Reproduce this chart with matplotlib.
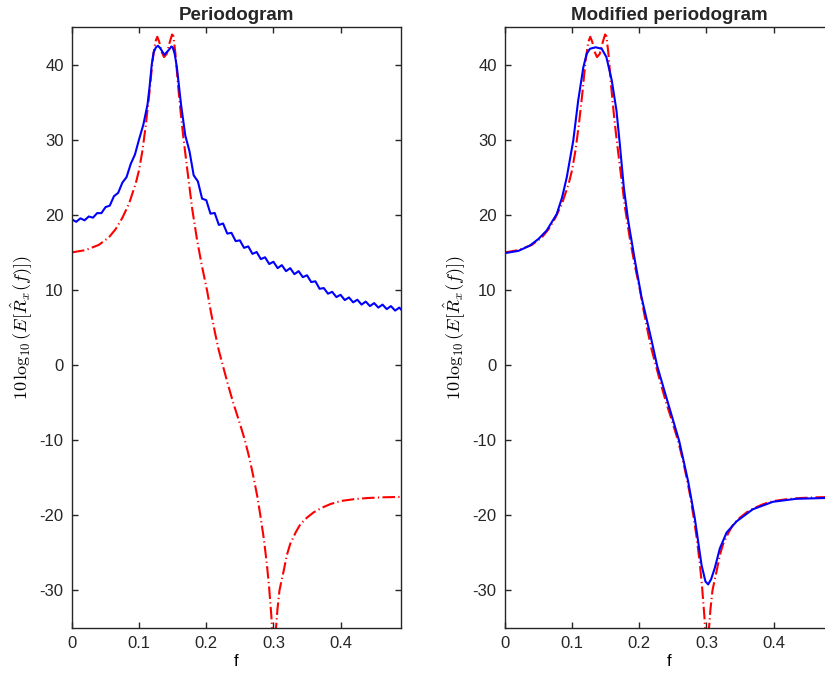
import matplotlib
matplotlib.use("Agg")
import matplotlib.pyplot as plt

plt.rcParams.update({
    "font.family": ["Liberation Sans", "DejaVu Sans"],
    "mathtext.fontset": "cm",
    "axes.unicode_minus": False,
    "axes.edgecolor": "#262626",
    "axes.linewidth": 1.0,
    "text.color": "#262626",
    "xtick.color": "#262626",
    "ytick.color": "#262626",
    "font.size": 12,
})

# true spectrum (dB) - red dash-dot, same in both panels
f_true = [0.000, 0.020, 0.040, 0.055, 0.065, 0.075, 0.085, 0.095, 0.100, 0.105,
          0.110, 0.115, 0.120, 0.124, 0.127, 0.130, 0.133, 0.137, 0.141, 0.145,
          0.149, 0.151, 0.154, 0.158, 0.162, 0.166, 0.172, 0.179, 0.186, 0.193,
          0.201, 0.207, 0.213, 0.2185, 0.2245, 0.232, 0.240, 0.249, 0.2575, 0.2645,
          0.2705, 0.276, 0.2805, 0.2855, 0.2900, 0.2935, 0.297, 0.2995, 0.300, 0.3005,
          0.303, 0.306, 0.309, 0.3125, 0.315, 0.320, 0.325, 0.333, 0.340, 0.350,
          0.360, 0.372, 0.385, 0.400, 0.420, 0.440, 0.465, 0.490]
R_true = [15.0, 15.3, 16.0, 17.0, 18.1, 19.6, 21.5, 24.2, 26.0, 28.6,
          32.0, 36.0, 40.5, 43.0, 43.7, 43.0, 41.8, 41.0, 41.4, 42.8,
          44.0, 43.8, 41.5, 37.2, 33.5, 30.2, 25.8, 20.8, 16.8, 13.4,
          10.0, 7.0, 4.3, 2.0, 0.0, -2.5, -5.0, -7.5, -10.0, -12.5,
          -15.0, -17.5, -20.0, -23.0, -26.3, -29.5, -33.5, -38.0, -50.0, -40.0,
          -36.0, -32.5, -30.0, -28.5, -27.5, -25.3, -23.8, -22.3, -21.2, -20.3,
          -19.6, -19.0, -18.5, -18.1, -17.85, -17.7, -17.6, -17.55]

# expected periodogram (dB) - blue, left panel
f_per = [0.0, 0.00625, 0.0125, 0.01875, 0.025, 0.03125, 0.0375, 0.04375, 0.05, 0.05625,
         0.0625, 0.06875, 0.075, 0.08125, 0.0875, 0.09375, 0.1, 0.10625, 0.1125, 0.1155,
         0.11875, 0.1215, 0.125, 0.128, 0.13125, 0.1375, 0.14375, 0.148, 0.15, 0.153,
         0.15625, 0.1595, 0.1625, 0.16875,
         0.175, 0.18125, 0.1875, 0.19375, 0.2, 0.20625, 0.2125, 0.21875, 0.225, 0.23125,
         0.2375, 0.24375, 0.25, 0.25625, 0.2625, 0.26875, 0.275, 0.28125, 0.2875, 0.29375,
         0.3, 0.30625, 0.3125, 0.31875, 0.325, 0.33125, 0.3375, 0.34375, 0.35, 0.35625,
         0.3625, 0.36875, 0.375, 0.38125, 0.3875, 0.39375, 0.4, 0.40625, 0.4125, 0.41875,
         0.425, 0.43125, 0.4375, 0.44375, 0.45, 0.45625, 0.4625, 0.46875, 0.475, 0.48125,
         0.4875, 0.49]
R_per = [19.38, 19.07, 19.53, 19.27, 19.78, 19.62, 20.23, 20.22, 21.03, 21.22,
         22.48, 22.92, 24.28, 25.02, 26.78, 28.02, 30.08, 32.0, 34.7, 37.0,
         40.0, 41.6, 42.3, 42.5, 42.2, 41.3, 41.9, 42.4, 42.3, 41.4,
         39.6, 37.0, 34.6, 30.55,
         28.45, 25.25, 24.45, 22.15, 21.95, 20.15, 20.25, 18.65, 18.85, 17.5,
         17.6, 16.5, 16.6, 15.6, 15.8, 14.8, 15.05, 14.1, 14.35, 13.45,
         13.75, 12.9, 13.3, 12.5, 12.9, 12.1, 12.5, 11.7, 11.95, 11.05,
         11.15, 10.15, 10.25, 9.5, 9.75, 9.05, 9.35, 8.65, 9.0, 8.35,
         8.7, 8.05, 8.45, 7.85, 8.25, 7.65, 8.05, 7.45, 7.85, 7.25,
         7.65, 7.4]

# expected modified periodogram (dB) - blue, right panel
f_mod = [0.000, 0.020, 0.037, 0.050, 0.062, 0.077, 0.085, 0.092, 0.1017, 0.109,
         0.1166, 0.1215, 0.1265, 0.135, 0.144, 0.151, 0.159, 0.166, 0.171, 0.177,
         0.1835, 0.1935, 0.2034, 0.218, 0.2266, 0.2406, 0.2594, 0.2728, 0.2827, 0.2927,
         0.2985, 0.3026, 0.307, 0.3125, 0.320, 0.330, 0.345, 0.369, 0.399, 0.434,
         0.476, 0.490]
R_mod = [14.9, 15.2, 15.9, 16.8, 17.9, 20.1, 22.3, 25.0, 29.9, 35.2,
         39.6, 41.4, 42.1, 42.3, 42.1, 41.0, 37.9, 33.9, 29.4, 23.6,
         19.2, 13.9, 9.0, 3.4, -0.1, -4.4, -10.1, -15.5, -20.4, -26.6,
         -28.8, -29.2, -28.5, -27.0, -24.4, -22.3, -20.8, -19.2, -18.2, -17.8,
         -17.7, -17.6]

titles = ["Periodogram", "Modified periodogram"]
blue_f = [f_per, f_mod]
blue_R = [R_per, R_mod]

fig = plt.figure(figsize=(8.25, 6.75), dpi=100)
W, H = 825.0, 675.0
positions = [[72 / W, 47 / H, 329 / W, 601 / H],
             [505 / W, 47 / H, 329 / W, 601 / H]]

dashdot = (0, (6.0, 1.6, 0.6, 1.6))

for pos, title, fb, Rb in zip(positions, titles, blue_f, blue_R):
    ax = fig.add_axes(pos)
    ax.plot(f_true, R_true, color="red", linestyle=dashdot, linewidth=1.5)
    ax.plot(fb, Rb, color="blue", linewidth=1.5)
    ax.set_xlim(0, 0.49)
    ax.set_ylim(-35, 45)
    ax.set_xticks([0, 0.1, 0.2, 0.3, 0.4])
    ax.set_xticklabels(["0", "0.1", "0.2", "0.3", "0.4"])
    ax.set_yticks([-30, -20, -10, 0, 10, 20, 30, 40])
    ax.set_yticklabels(["-30", "-20", "-10", "0", "10", "20", "30", "40"])
    ax.tick_params(direction="in", length=4.5, width=1.0, top=True, right=True,
                   labelsize=12, pad=6)
    ax.set_title(title, fontsize=13.5, fontweight="bold", pad=5)
    ax.set_xlabel("f", fontsize=12, labelpad=2)
    ax.set_ylabel(r"$10\,\log_{10}(E[\hat{R}_x(f)])$", fontsize=13, labelpad=4)

fig.savefig("out.png", dpi=100)
